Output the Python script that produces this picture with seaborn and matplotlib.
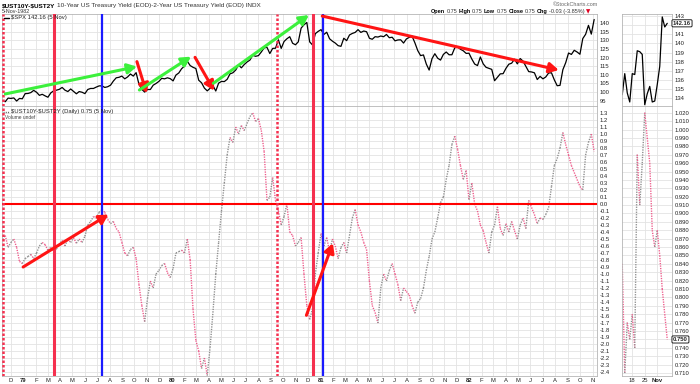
import numpy as np
import pandas as pd
import matplotlib
matplotlib.use("Agg")
import matplotlib.pyplot as plt
import matplotlib.dates as mdates
import matplotlib.transforms as mtransforms
from matplotlib.collections import LineCollection
from matplotlib import font_manager
import seaborn as sns

# ---------------------------------------------------------------- data
# weekly (Friday) closes on the main chart
week_first = "1978-11-10"
week_last = "1982-11-05"

spx_weekly = [
    95.0, 94.4, 96.5, 96.3, 96.6, 94.8, 96.3, 96.1,
    99.1, 99.2, 99.7, 101.0, 99.9, 98.1, 98.7, 97.8, 97.0, 99.5, 100.7, 101.1, 101.6,
    102.7, 101.1, 100.3, 101.8, 100.4, 99.0, 100.3, 99.9, 99.1, 101.5, 102.1, 102.1, 102.9,
    103.6, 103.6, 102.7, 103.1, 104.0, 106.4, 108.3, 108.6, 109.3, 107.7, 108.8, 110.5, 109.3,
    111.3, 104.5, 101.6, 100.0, 101.5, 101.5, 104.0, 105.0, 106.2, 108.0, 107.7, 108.3, 107.8,
    106.5, 109.9, 111.1, 113.6, 115.1, 117.9, 115.4, 114.4, 113.7, 106.9, 105.4, 102.3, 100.7,
    102.2, 103.8, 100.6, 105.2, 106.2, 106.1, 107.4, 110.6, 111.2, 112.8, 115.7, 114.1, 116.0,
    117.5, 118.6, 121.4, 120.8, 121.2, 123.3, 125.7, 126.0, 122.4, 125.4, 125.5, 130.4, 125.4,
    129.4, 131.0, 132.2, 128.4, 127.5, 129.2, 137.2, 139.1, 140.5, 129.2, 127.4, 134.0, 135.3,
    136.3, 133.5, 134.8, 131.0, 129.6, 128.5, 127.0, 126.6, 131.3, 129.9, 133.2, 134.1, 134.7,
    136.3, 134.7, 135.5, 135.1, 131.3, 130.7, 132.2, 132.0, 132.6, 132.2, 133.5, 131.6, 131.9,
    129.8, 130.3, 130.4, 128.5, 130.9, 131.8, 132.5, 128.6, 124.1, 121.2, 121.6, 116.3, 112.8,
    119.4, 122.3, 119.7, 118.6, 121.9, 123.3, 121.7, 121.7, 125.7, 126.3, 124.9, 124.0, 122.5,
    122.6, 119.2, 116.3, 115.4, 120.4, 116.4, 114.4, 113.8, 113.2, 106.6, 108.6, 110.6, 110.7,
    113.8, 116.2, 116.8, 119.1, 116.4, 119.5, 118.0, 114.9, 111.9, 111.7, 111.2, 107.3, 109.1,
    107.7, 108.8, 111.1, 111.2, 107.1, 103.7, 103.9, 113.0, 117.1, 122.7, 121.9, 124.3, 123.3,
    122.0, 131.1, 133.6, 138.8, 133.7, 142.2,
]

spread_weekly = [
    -0.50, -0.45, -0.62, -0.55, -0.50, -0.62, -0.82, -0.85,
    -0.78, -0.75, -0.72, -0.78, -0.70, -0.60, -0.55, -0.58, -0.66, -0.62, -0.68, -0.64, -0.58,
    -0.52, -0.60, -0.50, -0.55, -0.48, -0.56, -0.50, -0.55, -0.46, -0.30, -0.25, -0.18, -0.20,
    -0.12, -0.08, -0.12, -0.22, -0.28, -0.25, -0.35, -0.40, -0.55, -0.70, -0.74, -0.65, -0.62,
    -0.78, -1.15, -1.45, -1.68, -1.35, -1.10, -1.20, -1.00, -0.95, -0.88, -0.85, -0.98, -1.05,
    -0.92, -0.70, -0.68, -0.66, -0.70, -0.50, -0.80, -1.50, -1.95, -2.10, -2.35, -2.20, -2.45,
    -2.05, -1.55, -1.00, -0.55, -0.10, 0.30, 0.70, 0.95, 0.88, 1.10, 1.00, 1.12, 1.05,
    1.15, 1.25, 1.30, 1.18, 1.22, 1.05, 0.75, 0.05, 0.10, 0.38, 0.05, -0.10, -0.30,
    -0.18, 0.00, -0.40, -0.45, -0.60, -0.55, -0.48, -1.00, -1.45, -1.65, -1.50, -1.00, -0.70,
    -0.42, -0.60, -0.48, -0.68, -0.50, -0.60, -0.78, -0.62, -0.55, -0.70, -0.45, -0.20, -0.08,
    -0.30, -0.40, -0.55, -0.65, -1.10, -1.45, -1.55, -1.70, -1.20, -1.00, -1.10, -0.95, -0.85,
    -1.00, -1.15, -1.38, -1.20, -1.25, -1.30, -1.45, -1.56, -1.40, -1.35, -1.20, -0.95, -0.75,
    -0.50, -0.40, -0.20, 0.02, 0.10, 0.35, 0.55, 0.85, 0.97, 0.78, 0.55, 0.35, 0.48,
    0.06, 0.30, 0.00, -0.10, -0.30, -0.38, -0.55, -0.70, -0.40, -0.30, -0.04, -0.35, -0.45,
    -0.28, -0.40, -0.25, -0.38, -0.50, -0.30, -0.20, -0.35, 0.05, -0.05, -0.15, -0.28, -0.20,
    -0.22, -0.15, -0.05, 0.25, 0.55, 0.65, 0.80, 1.02, 0.85, 0.70, 0.55, 0.45, 0.35,
    0.25, 0.20, 0.70, 0.88, 1.00, 0.75,
]

# daily values of the last four weeks (small panel on the right)
zoom_days = ["1982-10-12", "1982-10-13", "1982-10-14", "1982-10-15", "1982-10-18",
             "1982-10-19", "1982-10-20", "1982-10-21", "1982-10-22", "1982-10-25",
             "1982-10-26", "1982-10-27", "1982-10-28", "1982-10-29", "1982-11-01",
             "1982-11-02", "1982-11-03", "1982-11-04", "1982-11-05"]
zoom_spx = [134.4, 136.7, 134.6, 133.6, 136.7, 136.6, 139.2, 139.1, 138.8, 133.3,
            134.5, 135.3, 133.6, 133.7, 135.5, 137.5, 142.9, 141.8, 142.2]
zoom_spread = [0.84, 0.71, 0.77, 0.75, 0.78, 0.74, 0.97, 0.91, 0.96, 1.02,
               0.99, 0.96, 0.88, 0.86, 0.88, 0.85, 0.81, 0.78, 0.75]
zoom_tick_pos = [4, 9, 14]
zoom_tick_labels = ["18", "25", "Nov"]

spx_ticks = [95, 100, 105, 110, 115, 120, 125, 130, 135, 140]
spread_ticks = [round(-2.4 + 0.1 * k, 1) for k in range(38)]
zoom_spx_ticks = [134, 135, 136, 137, 138, 139, 140, 141, 142, 143]
zoom_spread_ticks = [round(0.71 + 0.01 * k, 2) for k in range(32)]
last_spx_label = "142.16"
last_spread_label = "0.750"

# marks drawn by hand on the chart
RED, BLUE, GREEN, ARROW_RED = "#f5304f", "#1a1aff", "#3cf03c", "#ff1414"
red_lines = ["1979-03-18", "1980-12-14"]
blue_lines = ["1979-07-14", "1981-01-06"]
dotted_lines = ["1978-11-11", "1980-09-16"]
spx_arrows = [
    ("1978-11-17", 98.9, "1979-10-07", 114.8, GREEN),
    ("1979-10-07", 117.7, "1979-10-31", 99.3, ARROW_RED),
    ("1979-10-13", 101.2, "1980-02-17", 120.6, GREEN),
    ("1980-02-27", 120.2, "1980-04-14", 100.8, ARROW_RED),
    ("1980-04-12", 105.1, "1980-12-03", 144.8, GREEN),
    ("1981-01-05", 144.2, "1982-08-10", 112.8, ARROW_RED),
]
spread_arrows = [
    ("1978-12-31", -0.90, "1979-07-29", -0.15, ARROW_RED),
    ("1980-11-27", -1.59, "1981-01-31", -0.56, ARROW_RED),
]

# ---------------------------------------------------------------- style
sns.set_theme(style="white")
plt.rcParams["font.family"] = ["Liberation Sans", "DejaVu Sans"]
available = {f.name for f in font_manager.fontManager.ttflist}
TICK_FONT = "Liberation Sans Narrow" if "Liberation Sans Narrow" in available else "Liberation Sans"
GRID = "#e3e3e3"
FRAME = "#b5b5b5"
UP_DOT, DOWN_DOT = "#8c8c8c", "#ee5a8a"

W, H = 700, 384
fig = plt.figure(figsize=(W / 100, H / 100), dpi=100)


def rect(x0, y0, x1, y1):
    return [x0 / W, 1 - y1 / H, (x1 - x0) / W, (y1 - y0) / H]


ax_up = fig.add_axes(rect(2, 14, 597, 106))
ax_lo = fig.add_axes(rect(2, 106, 597, 376), sharex=ax_up)
ax_zu = fig.add_axes(rect(622, 14, 672, 106))
ax_zl = fig.add_axes(rect(622, 106, 672, 376), sharex=ax_zu)

weeks = pd.date_range(week_first, week_last, freq="W-FRI")
wx = mdates.date2num(weeks.to_pydatetime())
main = pd.DataFrame({"x": wx, "spx": spx_weekly, "spread": spread_weekly})
zoom = pd.DataFrame({"day": np.arange(len(zoom_days)), "spx": zoom_spx,
                     "spread": zoom_spread})


def dotted(ax, xs, ys):
    segs = [[(xs[i], ys[i]), (xs[i + 1], ys[i + 1])] for i in range(len(xs) - 1)]
    cols = [UP_DOT if ys[i + 1] >= ys[i] else DOWN_DOT for i in range(len(xs) - 1)]
    lc = LineCollection(segs, colors=cols, linewidths=1.0,
                        linestyles=[(0, (0.9, 0.9))], zorder=2)
    ax.add_collection(lc)


# main panels
sns.lineplot(data=main, x="x", y="spx", ax=ax_up, color="black", lw=0.9, zorder=2)
dotted(ax_lo, main["x"].values, main["spread"].values)
ax_lo.axhline(0, color="#ff0000", lw=1.5, zorder=3)

d2n = lambda d: mdates.date2num(pd.Timestamp(d).to_pydatetime())
for ax in (ax_up, ax_lo):
    for d in red_lines:
        ax.axvline(d2n(d), color=RED, lw=2.2, zorder=3)
    for d in blue_lines:
        ax.axvline(d2n(d), color=BLUE, lw=1.6, zorder=3)
    for d in dotted_lines:
        ax.axvline(d2n(d), color=RED, lw=1.8, ls=(0, (1, 0.8)), zorder=3)

for ax, arrows in ((ax_up, spx_arrows), (ax_lo, spread_arrows)):
    for d0, v0, d1, v1, c in arrows:
        ax.annotate("", xy=(d2n(d1), v1), xytext=(d2n(d0), v0), zorder=4,
                    annotation_clip=False,
                    arrowprops=dict(arrowstyle="-|>,head_length=0.55,head_width=0.3",
                                    color=c, lw=2.2, mutation_scale=10,
                                    shrinkA=0, shrinkB=0))

ax_up.set_xlim(d2n("1978-11-09"), d2n("1982-11-12"))
ax_up.set_ylim(91.9, 145.4)
ax_lo.set_ylim(-2.457, 1.40)

months = pd.date_range("1978-12-01", "1982-11-01", freq="MS")
month_labels = [f"{d:%y}" if d.month == 1 else f"{d:%b}"[0] for d in months]
ax_lo.set_xticks(mdates.date2num(months.to_pydatetime()))
ax_lo.set_xticklabels(month_labels)
for lbl in ax_lo.get_xticklabels():
    if lbl.get_text().isdigit():
        lbl.set_fontweight("bold")

ax_up.set_yticks(spx_ticks)
ax_up.set_yticklabels([str(v) for v in spx_ticks])
ax_lo.set_yticks(spread_ticks)
ax_lo.set_yticklabels([f"{v:.1f}" for v in spread_ticks])

# zoom panels
sns.lineplot(data=zoom, x="day", y="spx", ax=ax_zu, color="black", lw=0.9, zorder=2)
dotted(ax_zl, zoom["day"].values, zoom["spread"].values)
ax_zu.set_xlim(-0.1, 19.9)
ax_zu.set_ylim(133.16, 143.22)
ax_zl.set_ylim(0.7065, 1.028)
ax_zl.set_xticks(zoom_tick_pos)
ax_zl.set_xticklabels(zoom_tick_labels)
ax_zl.get_xticklabels()[-1].set_fontweight("bold")
# the value box sits where one tick label would be, so that label stays blank
ax_zu.set_yticks(zoom_spx_ticks)
ax_zu.set_yticklabels(["" if v == round(zoom_spx[-1]) else str(v) for v in zoom_spx_ticks])
ax_zl.set_yticks(zoom_spread_ticks)
ax_zl.set_yticklabels(["" if abs(v - zoom_spread[-1]) < 0.006 else f"{v:.3f}"
                       for v in zoom_spread_ticks])

for ax in (ax_up, ax_lo, ax_zu, ax_zl):
    ax.set_xlabel("")
    ax.set_ylabel("")
    ax.yaxis.tick_right()
    ax.grid(True, color=GRID, lw=0.6, zorder=0)
    ax.set_axisbelow(True)
    ax.tick_params(axis="both", length=0, labelsize=4.2, labelcolor="#222222")
    ax.tick_params(axis="y", pad=2.0)
    ax.tick_params(axis="x", pad=1.5)
    for lbl in ax.get_yticklabels() + ax.get_xticklabels():
        lbl.set_family(TICK_FONT)
    for s in ax.spines.values():
        s.set_color(FRAME)
        s.set_linewidth(0.6)
for ax in (ax_up, ax_zu):
    ax.tick_params(axis="x", labelbottom=False)

# value boxes on the zoom panels
for ax, val, txt in ((ax_zu, zoom_spx[-1], last_spx_label),
                     (ax_zl, zoom_spread[-1], last_spread_label)):
    tr = mtransforms.blended_transform_factory(ax.transAxes, ax.transData)
    ax.text(1.02, val, txt, transform=tr, ha="left", va="center", fontsize=4.2,
            fontweight="bold", family=TICK_FONT, clip_on=False, zorder=6,
            bbox=dict(boxstyle="round,pad=0.18", fc="white", ec="black", lw=0.6))

# ---------------------------------------------------------------- texts
renderer = fig.canvas.get_renderer()


def fx(px):
    return px / W


def fy(py):
    return 1 - py / H


def run_text(x_px, y_px, pieces, size, gap=1.2):
    x = x_px
    for s, weight, color, fam in pieces:
        t = fig.text(fx(x), fy(y_px), s, fontsize=size, fontweight=weight, color=color,
                     va="center", ha="left", parse_math=False,
                     family=fam or ["Liberation Sans", "DejaVu Sans"])
        x += t.get_window_extent(renderer=renderer).width + gap


run_text(2, 5.5, [("$UST10Y-$UST2Y", "bold", "black", None),
                  ("10-Year US Treasury Yield (EOD)-2-Year US Treasury Yield (EOD) INDX",
                   "normal", "#333333", None)], 4.6, gap=1.5)
fig.text(fx(2), fy(11.5), "5-Nov-1982", fontsize=3.9, color="#333333", va="center")
fig.text(fx(598), fy(4.5), "\u00a9StockCharts.com", fontsize=3.9, color="#666666",
         ha="right", va="center")
run_text(431, 11.5, [("Open", "bold", "black", None), ("0.75", "normal", "#333333", None),
                     ("High", "bold", "black", None), ("0.75", "normal", "#333333", None),
                     ("Low", "bold", "black", None), ("0.75", "normal", "#333333", None),
                     ("Close", "bold", "black", None), ("0.75", "normal", "#333333", None),
                     ("Chg", "bold", "black", None),
                     ("-0.03 (-3.85%)", "normal", "#333333", None),
                     ("\u25bc", "normal", "#e00020", "DejaVu Sans")], 4.0, gap=1.3)

# panel legends
fig.add_artist(plt.Line2D([fx(4), fx(9)], [fy(18), fy(18)], color="black", lw=1.0))
fig.text(fx(11), fy(18), "$SPX 142.16 (5 Nov)", fontsize=4.2, color="#222222",
         va="center", parse_math=False)
fig.add_artist(plt.Line2D([fx(3), fx(9)], [fy(112), fy(112)], color="#666666", lw=1.0,
                          ls=(0, (0.8, 0.8))))
fig.text(fx(11), fy(112), "$UST10Y-$UST2Y (Daily) 0.75 (5 Nov)", fontsize=4.2,
         color="#222222", va="center", parse_math=False)
fig.text(fx(5), fy(117.5), "Volume undef", fontsize=3.5, color="#444444", va="center")

fig.savefig("out.png", dpi=100, facecolor="white")
